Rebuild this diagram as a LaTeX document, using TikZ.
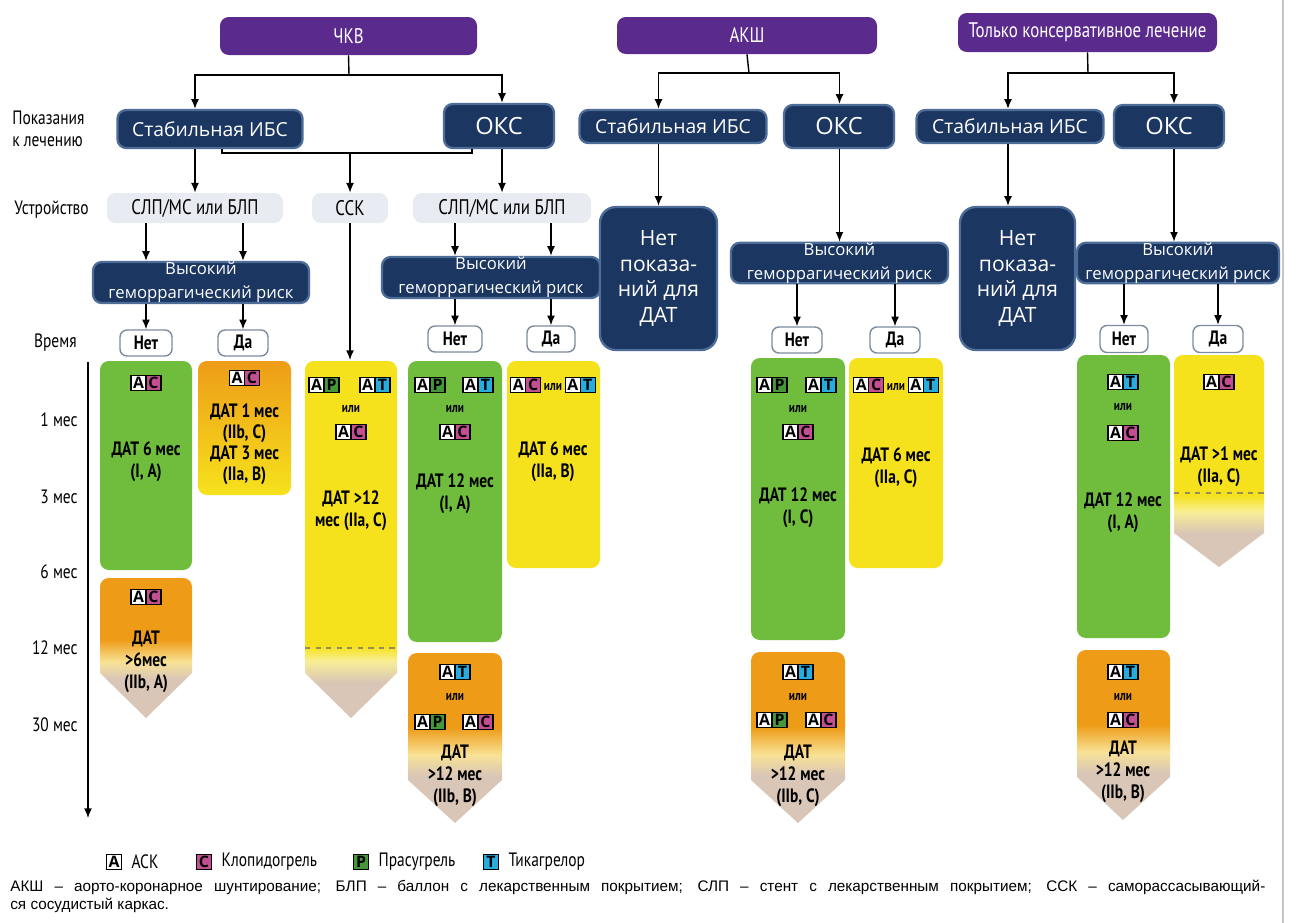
\documentclass[tikz,border=0pt]{standalone}
\usepackage{fontspec}
\setmainfont{Open Sans}
\newfontfamily\cond[FakeStretch=0.8]{PT Sans}
\newfontfamily\footfont{Liberation Sans}
\usetikzlibrary{arrows.meta,positioning}
\newlength\unitpx
\setlength\unitpx{0.02cm}
\definecolor{cPurple}{RGB}{90,42,140}
\definecolor{cNavy}{RGB}{27,54,97}
\definecolor{cNavyEdge}{RGB}{78,108,152}
\definecolor{cDev}{RGB}{232,235,241}
\definecolor{cGreen}{RGB}{112,189,62}
\definecolor{cOrange}{RGB}{238,156,24}
\definecolor{cYellow}{RGB}{246,226,28}
\definecolor{cPale}{RGB}{248,226,150}
\definecolor{cPaleY}{RGB}{248,238,150}
\definecolor{cTip}{RGB}{218,198,182}
\definecolor{cDash}{RGB}{150,140,90}
\definecolor{cMag}{RGB}{196,78,146}
\definecolor{cPgreen}{RGB}{70,150,58}
\definecolor{cCyan}{RGB}{40,172,222}
\definecolor{cBtn}{RGB}{125,140,160}
\pgfdeclareverticalshading{orangefade}{100bp}{color(0bp)=(cTip); color(39bp)=(cTip); color(45bp)=(cPale); color(53bp)=(cOrange); color(100bp)=(cOrange)}
\pgfdeclareverticalshading{yellowlong}{100bp}{color(0bp)=(cTip); color(30bp)=(cTip); color(33bp)=(cPaleY); color(35bp)=(cYellow); color(100bp)=(cYellow)}
\pgfdeclareverticalshading{yellowshort}{100bp}{color(0bp)=(cTip); color(33bp)=(cTip); color(38bp)=(cPaleY); color(42bp)=(cYellow); color(100bp)=(cYellow)}
\newcommand{\dg}[2]{{\setlength{\fboxsep}{0.7pt}\setlength{\fboxrule}{0.7pt}\fcolorbox{black}{#1}{\makebox[6.4pt]{\rule[-0.3pt]{0pt}{6.3pt}#2}}}}
\newcommand{\dpair}[2]{\dg{white}{A}\hspace{-0.7pt}\dg{#1}{#2}}
\newcommand{\ilitxt}{{\cond\fontsize{8}{8}\selectfont или}}
\tikzset{
	size/.style 2 args={minimum width=#1*0.02cm, minimum height=#2*0.02cm},
	head/.style={fill=cPurple, rounded corners=5pt, text=white, inner sep=0pt,
			font=\cond\fontsize{12}{14}\selectfont},
	navy/.style={fill=cNavy, draw=cNavyEdge, line width=1.3pt, rounded corners=5pt,
			text=white, inner sep=0pt, align=center},
	navyS/.style={navy, font=\fontsize{11}{13}\selectfont},
	navyL/.style={navy, font=\fontsize{13.5}{15}\selectfont},
	risk/.style={navy, font=\fontsize{9.5}{13.5}\selectfont},
	nodat/.style={navy, rounded corners=9pt, font=\fontsize{12}{14.7}\selectfont},
	dev/.style={fill=cDev, rounded corners=5pt, inner sep=0pt,
			font=\cond\fontsize{12}{14}\selectfont},
	btn/.style={fill=white, draw=cBtn, line width=0.8pt, rounded corners=4pt, inner sep=0pt,
			font=\cond\bfseries\fontsize{11}{12}\selectfont},
	lab/.style={font=\cond\fontsize{11}{12.5}\selectfont, align=left, inner sep=0pt},
	dat/.style={font=\cond\bfseries\fontsize{11}{12.5}\selectfont, align=center, inner sep=0pt},
	ili/.style={font=\cond\bfseries\fontsize{8}{8}\selectfont, inner sep=0pt},
	drug/.style={font=\bfseries\fontsize{9}{9}\selectfont, inner sep=0pt},
	legtxt/.style={font=\cond\fontsize{11}{12}\selectfont, inner sep=0pt},
	arr/.style={-{Latex[length=5.5pt,width=4.5pt]}, line width=0.8pt},
	con/.style={line width=0.8pt}
}
\begin{document}
\begin{tikzpicture}[x=0.02cm, y=-0.02cm]
        \useasboundingbox (0,0) rectangle (1299,923);
        \fill[white] (0,0) rectangle (1299,923);
        \draw[gray!45, line width=0.6pt] (1283,0) -- (1283,923);

        \node[head, size={257}{38}] (pci) at (348.5,36) {ЧКВ};
        \node[head, size={260}{37}] (cabg) at (747,35.5) {АКШ};
        \node[head, size={259}{39}] (cons) at (1087.5,32.5) {Только консервативное лечение};

        \node[lab, anchor=west] (indic) at (12,129) {Показания\\к лечению};
        \node[lab, anchor=west] (device) at (14,210) {Устройство};
        \node[lab, anchor=east] (time) at (77,343) {Время};

        \node[navyS, size={185}{38}] (pciSt) at (210,129) {Стабильная ИБС};
        \node[navyL, size={110}{44}] (pciAcs) at (499,126) {ОКС};
        \node[navyS, size={187}{33}] (cabgSt) at (673,126.5) {Стабильная ИБС};
        \node[navyL, size={110}{43}] (cabgAcs) at (839,126.5) {ОКС};
        \node[navyS, size={187}{33}] (consSt) at (1010,126.5) {Стабильная ИБС};
        \node[navyL, size={110}{43}] (consAcs) at (1169,126.5) {ОКС};

        \node[dev, size={176}{30}] (devL) at (195,208) {СЛП/МС или БЛП};
        \node[dev, size={76}{30}] (devC) at (350,208) {ССК};
        \node[dev, size={178}{30}] (devR) at (502,208) {СЛП/МС или БЛП};

        \node[risk, size={216}{41}] (hbrL) at (201,282.5) {Высокий\\геморрагический риск};
        \node[risk, size={218}{41}] (hbrR) at (491,277.5) {Высокий\\геморрагический риск};
        \node[risk, size={217}{40}] (hbrA) at (839.5,263) {Высокий\\геморрагический риск};
        \node[risk, size={202}{40}] (hbrC) at (1178,263) {Высокий\\геморрагический риск};

        \node[nodat, size={117}{143}] (noA) at (658.5,278.5) {Нет\\показа-\\ний для\\ДАТ};
        \node[nodat, size={115}{143}] (noC) at (1017.5,278.5) {Нет\\показа-\\ний для\\ДАТ};

        \node[btn, size={52}{26}] (nL) at (146,343) {Нет};
        \node[btn, size={50}{26}] (dL) at (243,343) {Да};
        \node[btn, size={54}{26}] (nR) at (455,339) {Нет};
        \node[btn, size={48}{26}] (dR) at (551,339) {Да};
        \node[btn, size={50}{26}] (nA) at (797,340) {Нет};
        \node[btn, size={50}{26}] (dA) at (895,340) {Да};
        \node[btn, size={48}{27}] (nC) at (1124,339) {Нет};
        \node[btn, size={50}{27}] (dC) at (1218,339) {Да};

        \coordinate (pciBus) at (349,75);
        \coordinate (pciBusL) at (222,153);
        \coordinate (pciBusR) at (472,153);
        \coordinate (cabgBus) at (749,73);
        \coordinate (consBus) at (1088,73);
        \coordinate (consX) at (1008,0);
        \coordinate (consY) at (1174,0);
        \coordinate (cckTop) at (350,360);

        \draw[con] (pci.south) -- (pciBus);
        \draw[arr] (pciBus) -| (pciSt.north -| devL);
        \draw[arr] (pciBus) -| (pciAcs.north -| devR);
        \draw[con] (pciSt.south -| pciBusL) -- (pciBusL) -- (pciBusR) -- (pciAcs.south -| pciBusR);
        \draw[arr] (pciSt.south -| devL) -- (devL);
        \draw[arr] (pciBusL -| devC) -- (devC);
        \draw[arr] (pciAcs.south -| devR) -- (devR);
        \draw[arr] (devC) -- (cckTop);
        \draw[arr] (devL.south -| nL) -- (hbrL.north -| nL);
        \draw[arr] (devL.south -| dL) -- (hbrL.north -| dL);
        \draw[arr] (devR.south -| nR) -- (hbrR.north -| nR);
        \draw[arr] (devR.south -| dR) -- (hbrR.north -| dR);
        \draw[arr] (hbrL.south -| nL) -- (nL);
        \draw[arr] (hbrL.south -| dL) -- (dL);
        \draw[arr] (hbrR.south -| nR) -- (nR);
        \draw[arr] (hbrR.south -| dR) -- (dR);

        \draw[con] (cabg.south) -- (cabgBus);
        \draw[arr] (cabgBus) -| (cabgSt.north -| noA);
        \draw[arr] (cabgBus) -| (cabgAcs.north -| hbrA);
        \draw[arr] (cabgSt.south -| noA) -- (noA);
        \draw[arr] (cabgAcs.south -| hbrA) -- (hbrA);
        \draw[arr] (hbrA.south -| nA) -- (nA);
        \draw[arr] (hbrA.south -| dA) -- (dA);

        \draw[con] (cons.south) -- (consBus);
        \draw[arr] (consBus) -| (consSt.north -| consX);
        \draw[arr] (consBus) -| (consAcs.north -| consY);
        \draw[arr] (consSt.south -| consX) -- (noC.north -| consX);
        \draw[arr] (consAcs.south -| consY) -- (hbrC.north -| consY);
        \draw[arr] (hbrC.south -| nC) -- (nC);
        \draw[arr] (hbrC.south -| dC) -- (dC);

        \coordinate (axTop) at (88,362);
        \coordinate (axEnd) at (88,818);
        \draw[arr] (axTop) -- (axEnd);
        \node[lab, anchor=east] (t1) at (78,420) {1 мес};
        \node[lab, anchor=east] (t3) at (78,497) {3 мес};
        \node[lab, anchor=east] (t6) at (78,572) {6 мес};
        \node[lab, anchor=east] (t12) at (78,648) {12 мес};
        \node[lab, anchor=east] (t30) at (78,725) {30 мес};

        \fill[cGreen, rounded corners=5pt] (100,361) rectangle (192,570);
        \node[drug] (c1a) at (146,383) {\dpair{cMag}{C}};
        \node[dat] (c1t) at (146,462) {ДАТ 6 мес\\(I, A)};
        \shade[shading=orangefade] (146,718) -- (100,673) [rounded corners=5pt] -- (100,578) -- (192,578) [sharp corners] -- (192,673) -- cycle;
        \node[drug] (c2a) at (146,597) {\dpair{cMag}{C}};
        \node[dat] (c2t) at (146,662) {ДАТ\\>6мес\\(IIb, A)};

        \shade[top color=cOrange, bottom color=cYellow, rounded corners=5pt] (198,361) rectangle (291,495);
        \node[drug] (c3a) at (244.5,378) {\dpair{cMag}{C}};
        \node[dat, font=\cond\bfseries\fontsize{11}{12}\selectfont] (c3t) at (244.5,444) {ДАТ 1 мес\\(IIb, C)\\ДАТ 3 мес\\(IIa, B)};

        \shade[shading=yellowlong] (351,718) -- (305,673) [rounded corners=5pt] -- (305,361) -- (397,361) [sharp corners] -- (397,673) -- cycle;
        \draw[dashed, cDash, line width=0.8pt] (305,648) -- (397,648);
        \node[drug] (c4a) at (324,385) {\dpair{cPgreen}{P}};
        \node[drug] (c4b) at (375,385) {\dpair{cCyan}{T}};
        \node[ili] (c4o) at (351,409) {или};
        \node[drug] (c4c) at (351,432) {\dpair{cMag}{C}};
        \node[dat] (c4t) at (351,511) {ДАТ >12\\мес (IIa, C)};

        \fill[cGreen, rounded corners=5pt] (408,361) rectangle (502,642);
        \node[drug] (c5a) at (430,385) {\dpair{cPgreen}{P}};
        \node[drug] (c5b) at (478,385) {\dpair{cCyan}{T}};
        \node[ili] (c5o) at (455,409) {или};
        \node[drug] (c5c) at (455,432) {\dpair{cMag}{C}};
        \node[dat] (c5t) at (455,494) {ДАТ 12 мес\\(I, A)};
        \shade[shading=orangefade] (455,823) -- (408,780) [rounded corners=5pt] -- (408,653) -- (502,653) [sharp corners] -- (502,780) -- cycle;
        \node[drug] (c6a) at (455,672) {\dpair{cCyan}{T}};
        \node[ili] (c6o) at (455,697) {или};
        \node[drug] (c6b) at (430,722) {\dpair{cPgreen}{P}};
        \node[drug] (c6c) at (478,722) {\dpair{cMag}{C}};
        \node[dat] (c6t) at (455,776) {ДАТ\\>12 мес\\(IIb, B)};

        \fill[cYellow, rounded corners=5pt] (507,361) rectangle (600,568);
        \node[drug] (c7a) at (553,385) {\dpair{cMag}{C}\,\ilitxt\,\dpair{cCyan}{T}};
        \node[dat] (c7t) at (553,462) {ДАТ 6 мес\\(IIa, B)};

        \fill[cGreen, rounded corners=5pt] (751,358) rectangle (845,640);
        \node[drug] (c8a) at (772,385) {\dpair{cPgreen}{P}};
        \node[drug] (c8b) at (821,385) {\dpair{cCyan}{T}};
        \node[ili] (c8o) at (798,409) {или};
        \node[drug] (c8c) at (798,432) {\dpair{cMag}{C}};
        \node[dat] (c8t) at (798,508) {ДАТ 12 мес\\(I, C)};
        \shade[shading=orangefade] (798,823) -- (751,780) [rounded corners=5pt] -- (751,652) -- (845,652) [sharp corners] -- (845,780) -- cycle;
        \node[drug] (c9a) at (798,672) {\dpair{cCyan}{T}};
        \node[ili] (c9o) at (798,697) {или};
        \node[drug] (c9b) at (772,720) {\dpair{cPgreen}{P}};
        \node[drug] (c9c) at (821,720) {\dpair{cMag}{C}};
        \node[dat] (c9t) at (798,776) {ДАТ\\>12 мес\\(IIb, C)};

        \fill[cYellow, rounded corners=5pt] (849,358) rectangle (943,568);
        \node[drug] (c10a) at (896,385) {\dpair{cMag}{C}\,\ilitxt\,\dpair{cCyan}{T}};
        \node[dat] (c10t) at (896,468) {ДАТ 6 мес\\(IIa, C)};

        \fill[cGreen, rounded corners=5pt] (1077,355) rectangle (1170,638);
        \node[drug] (c11a) at (1123,382) {\dpair{cCyan}{T}};
        \node[ili] (c11o) at (1123,407) {или};
        \node[drug] (c11b) at (1123,433) {\dpair{cMag}{C}};
        \node[dat] (c11t) at (1123,513) {ДАТ 12 мес\\(I, A)};
        \shade[shading=orangefade] (1123,820) -- (1077,777) [rounded corners=5pt] -- (1077,650) -- (1170,650) [sharp corners] -- (1170,777) -- cycle;
        \node[drug] (c12a) at (1123,672) {\dpair{cCyan}{T}};
        \node[ili] (c12o) at (1123,697) {или};
        \node[drug] (c12b) at (1123,720) {\dpair{cMag}{C}};
        \node[dat] (c12t) at (1123,772) {ДАТ\\>12 мес\\(IIb, B)};

        \shade[shading=yellowshort] (1219,567) -- (1174,533) [rounded corners=5pt] -- (1174,355) -- (1264,355) [sharp corners] -- (1264,533) -- cycle;
        \draw[dashed, cDash, line width=0.8pt] (1174,493) -- (1264,493);
        \node[drug] (c13a) at (1219,382) {\dpair{cMag}{C}};
        \node[dat] (c13t) at (1219,467) {ДАТ >1 мес\\(IIa, C)};

        \node[drug] (lgA) at (114,862) {\dg{white}{A}};
        \node[legtxt, right=5pt of lgA] (lgAt) {АСК};
        \node[drug] (lgC) at (204,862) {\dg{cMag}{C}};
        \node[legtxt, right=5pt of lgC] (lgCt) {Клопидогрель};
        \node[drug] (lgP) at (361,862) {\dg{cPgreen}{P}};
        \node[legtxt, right=5pt of lgP] (lgPt) {Прасугрель};
        \node[drug] (lgT) at (491,862) {\dg{cCyan}{T}};
        \node[legtxt, right=5pt of lgT] (lgTt) {Тикагрелор};

        \node[inner sep=0pt, anchor=base west, font=\footfont\fontsize{8.7}{10.8}\selectfont] (note) at (10,891) {\parbox[t]{1255\unitpx}{АКШ – аорто-коронарное шунтирование; БЛП – баллон с лекарственным покрытием; СЛП – стент с лекарственным покрытием; ССК – саморассасывающий-\linebreak ся сосудистый каркас.}};
    \end{tikzpicture}
\end{document}
